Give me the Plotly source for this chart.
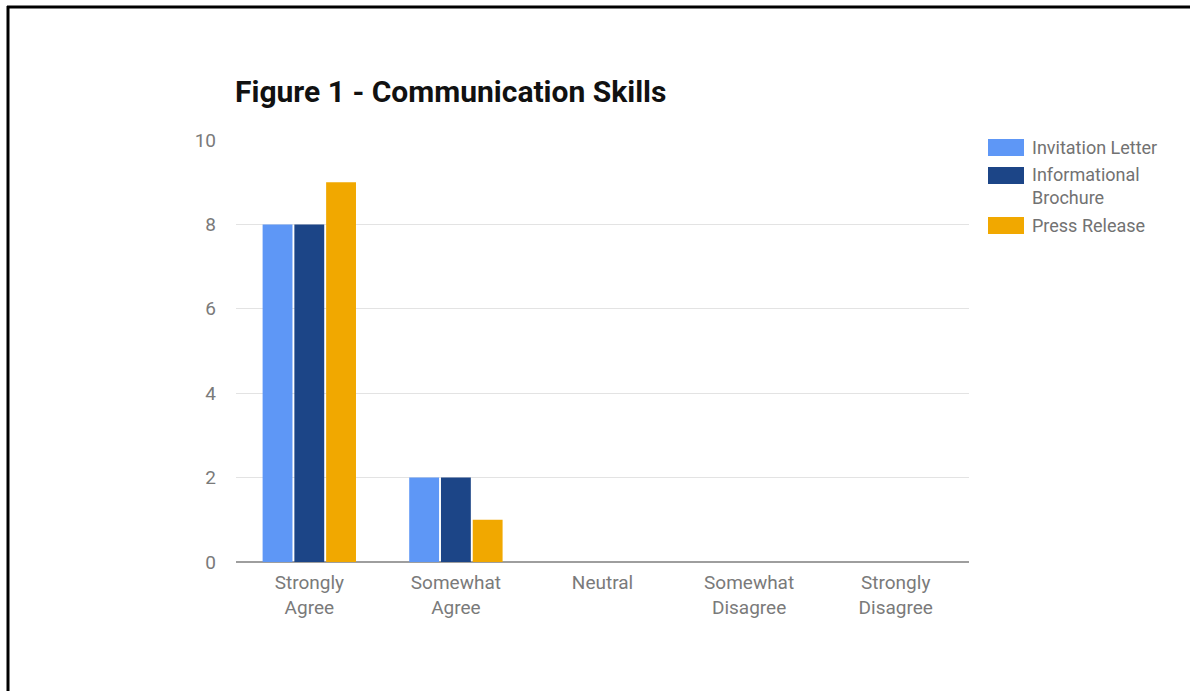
import plotly.graph_objects as go

# Survey responses per document type
categories = ["Strongly<br>Agree", "Somewhat<br>Agree", "Neutral",
              "Somewhat<br>Disagree", "Strongly<br>Disagree"]
invitation_letter = [8, 2, 0, 0, 0]
informational_brochure = [8, 2, 0, 0, 0]
press_release = [9, 1, 0, 0, 0]

series_names = ["Invitation Letter", "Informational<br>Brochure", "Press Release"]
series_colors = ["#5e97f6", "#1c4587", "#f1a800"]
y_ticks = [0, 2, 4, 6, 8, 10]

W, H = 1190, 691
L, R, T, B = 236, 969, 140, 562  # plot area in pixels


def px(x):
    return (x - L) / (R - L)


def py(y):
    return (B - y) / (B - T)


fig = go.Figure()
for name, vals, col in zip(series_names,
                           [invitation_letter, informational_brochure, press_release],
                           series_colors):
    fig.add_trace(go.Bar(
        x=categories, y=vals, name=name.replace("<br>", " "),
        marker=dict(color=col, line=dict(width=0)),
        showlegend=False,
    ))

# Custom legend: wide swatches with wrapped labels
legend_rows = [(139, 156, 147), (167, 184, 186), (217, 234, 225)]
for (y0, y1, yt), name, col in zip(legend_rows, series_names, series_colors):
    fig.add_shape(type="rect", xref="paper", yref="paper",
                  x0=px(988), x1=px(1024), y0=py(y1), y1=py(y0),
                  fillcolor=col, line=dict(width=0))
    fig.add_annotation(xref="paper", yref="paper", x=px(1030), y=py(yt),
                       text=name, showarrow=False, xanchor="left", yanchor="middle",
                       align="left",
                       font=dict(family="Roboto", size=18, color="#727272"))

# Title
fig.add_annotation(xref="paper", yref="paper", x=px(233), y=py(92),
                   text="<b>Figure 1 - Communication Skills</b>", showarrow=False,
                   xanchor="left", yanchor="middle",
                   font=dict(family="Roboto", size=30, color="#111111"))

# Frame lines along top and left edges
fig.add_shape(type="line", xref="paper", yref="paper",
              x0=px(7), x1=px(W + 5), y0=py(7), y1=py(7),
              line=dict(color="black", width=3))
fig.add_shape(type="line", xref="paper", yref="paper",
              x0=px(8), x1=px(8), y0=py(6), y1=py(H + 5),
              line=dict(color="black", width=3))

fig.update_layout(
    width=W, height=H,
    margin=dict(l=L, r=W - R, t=T, b=H - B),
    paper_bgcolor="white", plot_bgcolor="white",
    barmode="group", bargap=0.35, bargroupgap=0.06,
    font=dict(family="Roboto", color="#757575"),
)
fig.update_xaxes(
    showgrid=False, showline=False, ticks="",
    tickfont=dict(family="Roboto", size=19, color="#7a7a7a"),
    ticklabelstandoff=7,
)
fig.update_yaxes(
    range=[0, 10], tickvals=y_ticks, showgrid=True, gridcolor="#e3e3e3",
    gridwidth=1, zeroline=True, zerolinecolor="#9e9e9e", zerolinewidth=1.5,
    showline=False, ticks="",
    tickfont=dict(family="Roboto", size=19, color="#7a7a7a"),
    ticklabelstandoff=19,
)

fig.write_html("out.html")
